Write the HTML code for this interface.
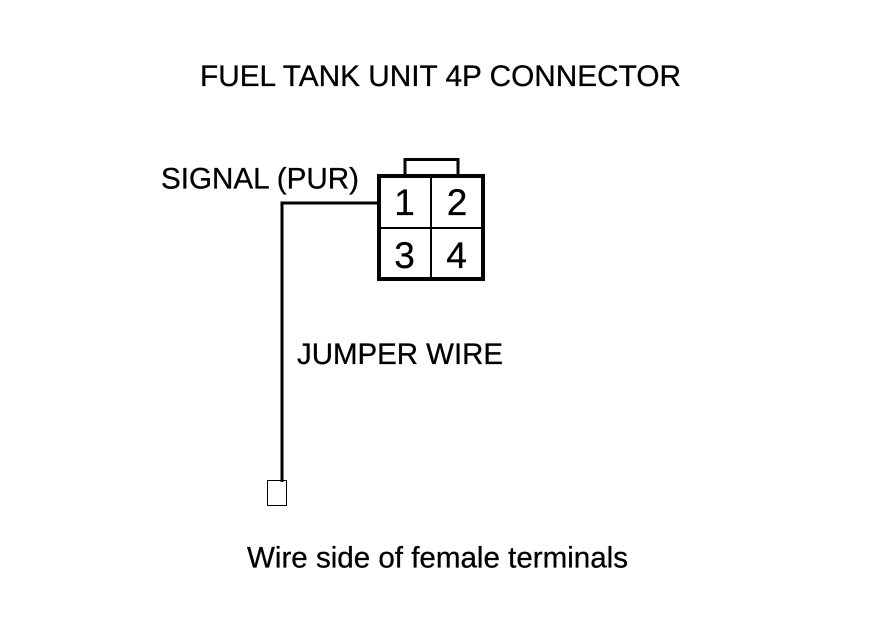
<!DOCTYPE html>
<html>
<head>
<meta charset="utf-8">
<style>
html,body{margin:0;padding:0;background:#fff;width:880px;height:630px;overflow:hidden}
svg{display:block}
text{font-family:"Liberation Sans",Arial,sans-serif;fill:#000;stroke:#000;stroke-width:.3}
.l{shape-rendering:crispEdges}
</style>
</head>
<body>
<svg width="880" height="630" viewBox="0 0 880 630" xmlns="http://www.w3.org/2000/svg">
<rect width="880" height="630" fill="#fff"/>
<text x="200" y="86" font-size="30" textLength="481" lengthAdjust="spacingAndGlyphs">FUEL TANK UNIT 4P CONNECTOR</text>
<text x="161" y="188.500" font-size="29.500" textLength="198" lengthAdjust="spacingAndGlyphs">SIGNAL (PUR)</text>
<text x="297" y="364" font-size="29.500" textLength="206" lengthAdjust="spacingAndGlyphs">JUMPER WIRE</text>
<text x="247" y="567.500" font-size="29.500" textLength="381" lengthAdjust="spacingAndGlyphs">Wire side of female terminals</text>
<g class="l">
<path d="M405 175V159.500H458V175" fill="none" stroke="#000" stroke-width="3"/>
<rect x="379" y="176" width="104" height="103" fill="none" stroke="#000" stroke-width="4"/>
<path d="M431 176V279M379 228H483" fill="none" stroke="#000" stroke-width="2"/>
<path d="M378 203H282V482" fill="none" stroke="#000" stroke-width="3"/>
<rect x="267.500" y="480.500" width="19" height="25" fill="none" stroke="#000" stroke-width="1"/>
</g>
<text x="404.500" y="215" font-size="37" text-anchor="middle">1</text>
<text x="457" y="215" font-size="37" text-anchor="middle">2</text>
<text x="404.500" y="268" font-size="37" text-anchor="middle">3</text>
<text x="456.500" y="268" font-size="37" text-anchor="middle">4</text>
</svg>
</body>
</html>
